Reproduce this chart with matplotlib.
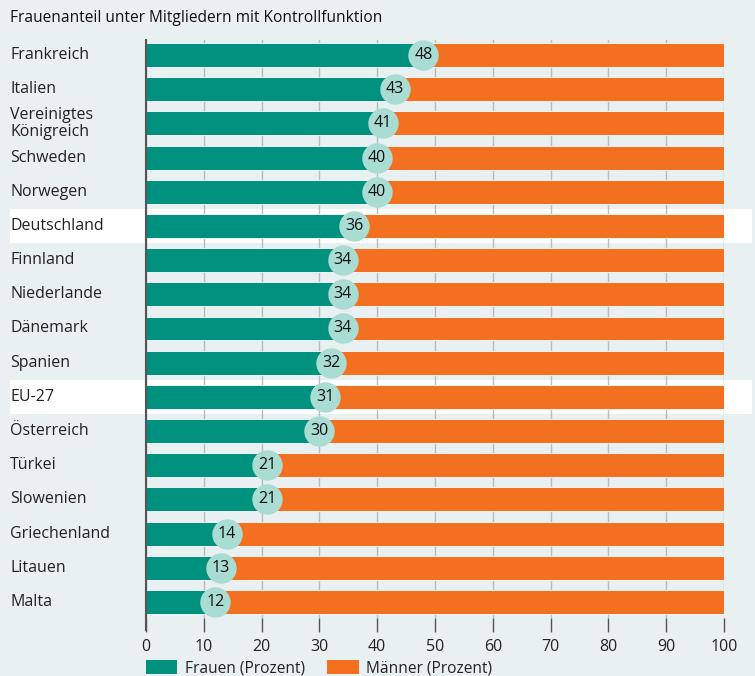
import matplotlib.pyplot as plt
import matplotlib.transforms as mtransforms
from matplotlib.patches import Rectangle, Patch

plt.rcParams["font.family"] = ["Open Sans", "DejaVu Sans"]

countries = ["Frankreich", "Italien", "Vereinigtes\nKönigreich", "Schweden", "Norwegen",
             "Deutschland", "Finnland", "Niederlande", "Dänemark", "Spanien", "EU-27",
             "Österreich", "Türkei", "Slowenien", "Griechenland", "Litauen", "Malta"]
frauen = [48, 43, 41, 40, 40, 36, 34, 34, 34, 32, 31, 30, 21, 21, 14, 13, 12]
maenner = [100 - v for v in frauen]
highlight = ["Deutschland", "EU-27"]
xticks = [0, 10, 20, 30, 40, 50, 60, 70, 80, 90, 100]

bg = "#e8f0f1"
teal = "#00917f"
orange = "#f37021"
bubble = "#a9dcd2"

W, H = 755, 676
fig = plt.figure(figsize=(W / 100, H / 100), dpi=100, facecolor=bg)
ax = fig.add_axes([146 / W, (H - 618) / H, 578 / W, 578 / H])
ax.set_facecolor("none")

y = list(range(len(countries)))
ax.barh(y, frauen, height=0.7, color=teal, edgecolor="white", linewidth=0.6, zorder=2)
ax.barh(y, maenner, left=frauen, height=0.7, color=orange, edgecolor="white",
        linewidth=0.6, zorder=2)
ax.scatter(frauen, y, s=480, color=bubble, zorder=3, linewidths=0)
for yi, v in zip(y, frauen):
    ax.text(v, yi, str(v), ha="center", va="center", fontsize=11.5, color="#111111", zorder=4)

# white bands behind highlighted rows, spanning the label area too
trans = mtransforms.blended_transform_factory(fig.transFigure, ax.transData)
for name in highlight:
    i = countries.index(name)
    ax.add_patch(Rectangle((10 / W, i - 0.5), 742 / W, 1.0, transform=trans,
                           facecolor="white", edgecolor="none", zorder=0.1, clip_on=False))

ax.set_xlim(0, 100)
ax.set_ylim(16.47, -0.44)
ax.set_xticks(xticks)
ax.set_xticklabels([str(t) for t in xticks], fontsize=11.5, color="#222222")
ax.set_yticks([])
ax.grid(axis="x", color="#b8bcbe", linewidth=1, zorder=0.5)
ax.set_axisbelow(True)
ax.tick_params(axis="x", length=10, width=1, color="#555555", pad=5)
for s in ["top", "right", "bottom"]:
    ax.spines[s].set_visible(False)
ax.spines["left"].set_color("#555555")
ax.spines["left"].set_linewidth(1.5)
ax.spines["left"].set_bounds(16.47 + 0.35, -0.44)

for yi, name in zip(y, countries):
    ax.text(10 / W, yi, name, transform=trans, ha="left", va="center",
            fontsize=11.5, color="#222222", linespacing=1.15)

fig.text(10 / W, (H - 18) / H, "Frauenanteil unter Mitgliedern mit Kontrollfunktion",
         ha="left", va="center", fontsize=11.2, color="#111111")

handles = [Patch(facecolor=teal), Patch(facecolor=orange)]
fig.legend(handles, ["Frauen (Prozent)", "Männer (Prozent)"], loc="upper left",
           bbox_to_anchor=(132 / W, (H - 646) / H), ncol=2, frameon=False,
           fontsize=11.2, handlelength=2.0, handleheight=1.0, columnspacing=1.45,
           handletextpad=0.5, labelcolor="#222222")

fig.savefig("out.png", dpi=100, facecolor=bg)
